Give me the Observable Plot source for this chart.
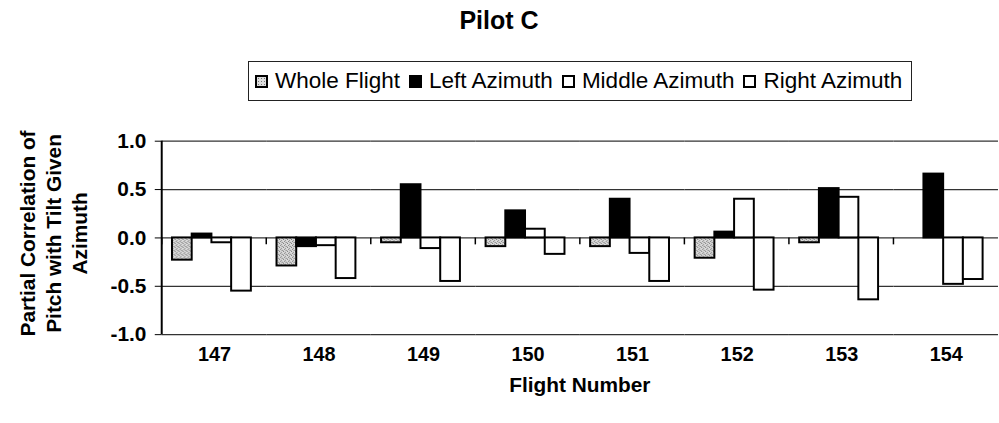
<!DOCTYPE html>
<html>
<head>
<meta charset="utf-8">
<script src="https://cdn.jsdelivr.net/npm/d3@7"></script>
<script src="https://cdn.jsdelivr.net/npm/@observablehq/plot@0.6"></script>
<style>
  html, body { margin: 0; padding: 0; background: #fff; overflow: hidden; }
  body { width: 999px; height: 423px; font-family: "Liberation Sans", Arial, sans-serif; color: #000; }
  #head { position: relative; height: 104px; width: 999px; }
  #title { position: absolute; left: 0; width: 998px; top: 5px; text-align: center; font-weight: bold; font-size: 25px; line-height: 30px; }
  #legend { position: absolute; left: 248px; top: 61px; width: 664px; height: 40px; box-sizing: border-box; border: 1.5px solid #222; display: flex; align-items: center; padding-left: 6px; font-size: 22.5px; white-space: nowrap; }
  .item { display: flex; align-items: center; margin-right: 9px; }
  .sw { width: 9px; height: 9px; border: 2px solid #000; margin-right: 7px; }
  svg { display: block; }
</style>
</head>
<body>
<div id="head">
  <div id="title">Pilot C</div>
  <div id="legend"></div>
</div>
<div id="chart"></div>
<script>
// ---- data ----
const flights = ["147", "148", "149", "150", "151", "152", "153", "154"];
const seriesNames = ["Whole Flight", "Left Azimuth", "Middle Azimuth", "Right Azimuth"];
const wholeFlight   = [-0.23, -0.29, -0.05, -0.09, -0.09, -0.21, -0.05, 0.00];
const leftAzimuth   = [0.04, -0.09, 0.55, 0.28, 0.40, 0.06, 0.51, 0.66];
const middleAzimuth = [-0.05, -0.08, -0.11, 0.09, -0.16, 0.40, 0.42, -0.48];
const rightAzimuth  = [-0.55, -0.42, -0.45, -0.17, -0.45, -0.54, -0.64, -0.43];
const yTicks = [-1, -0.5, 0, 0.5, 1];
const yTitleLines = ["Partial Correlation of", "Pitch with Tilt Given", "Azimuth"];
const xTitle = "Flight Number";
const seriesFills = ["url(#stipple)", "#000000", "#ffffff", "#ffffff"];

const seriesValues = [wholeFlight, leftAzimuth, middleAzimuth, rightAzimuth];
const rows = [];
flights.forEach((f, i) => {
  seriesNames.forEach((s, j) => rows.push({flight: f, series: s, value: seriesValues[j][i]}));
});

// ---- legend ----
const legend = document.getElementById("legend");
seriesNames.forEach((s, j) => {
  const it = document.createElement("div");
  it.className = "item";
  const sw = document.createElement("div");
  sw.className = "sw";
  sw.style.background = j === 0
    ? "radial-gradient(#777 35%, #ddd 40%) 0 0 / 3px 3px"
    : seriesFills[j];
  const tx = document.createElement("span");
  tx.textContent = s;
  it.appendChild(sw); it.appendChild(tx);
  legend.appendChild(it);
});

// ---- chart ----
const plot = Plot.plot({
  width: 1007,
  height: 319,
  marginTop: 37,
  marginBottom: 87,
  marginLeft: 163,
  marginRight: 1,
  style: {fontFamily: "'Liberation Sans', Arial, sans-serif", fontSize: "20px", fontWeight: "bold", color: "#000", background: "transparent"},
  fx: {domain: flights, padding: 0, round: false, label: null},
  x: {domain: seriesNames, paddingInner: 0, paddingOuter: 0.65, align: 0.4, round: false, axis: null},
  y: {domain: [-1, 1], label: null},
  color: {domain: seriesNames, range: seriesFills},
  marks: [
    Plot.ruleY(yTicks, {stroke: "#333", strokeWidth: 1.2}),
    Plot.barY(rows, {fx: "flight", x: "series", y: "value", fill: "series", stroke: "#000", strokeWidth: 2}),
    Plot.axisY({ticks: yTicks, tickFormat: d => d.toFixed(1), tickSize: 7, tickPadding: 9, label: null, fontSize: 21, fontWeight: "bold"}),
    Plot.axisFx({anchor: "bottom", tickSize: 0, tickPadding: 12, label: null, fontSize: 20, fontWeight: "bold"})
  ]
});
document.getElementById("chart").appendChild(plot);

// ---- extras drawn from the plot's own scales ----
const svg = d3.select(plot);
const fx = plot.scale("fx");
const y = plot.scale("y");
const bw = fx.bandwidth;
const x0 = fx.apply(flights[0]);
const xEnd = fx.apply(flights[flights.length - 1]) + bw;
const yTop = y.apply(1), yBot = y.apply(-1), yZero = y.apply(0);

const defs = svg.insert("defs", ":first-child");
const pat = defs.append("pattern").attr("id", "stipple").attr("patternUnits", "userSpaceOnUse")
  .attr("width", 4).attr("height", 4);
pat.append("rect").attr("width", 4).attr("height", 4).attr("fill", "#dcdcdc");
[[0, 0, "#6a6a6a"], [2, 1, "#8a8a8a"], [1, 2, "#7a7a7a"], [3, 3, "#888"], [2, 3, "#aaa"]].forEach(([px, py, c]) =>
  pat.append("rect").attr("x", px).attr("y", py).attr("width", 1).attr("height", 1).attr("fill", c));

const g = svg.append("g");
// value axis line
g.append("line").attr("x1", x0).attr("x2", x0).attr("y1", yTop).attr("y2", yBot)
  .attr("stroke", "#000").attr("stroke-width", 2);
// category boundary ticks on the zero line
flights.forEach(f => {
  const xb = fx.apply(f);
  g.append("line").attr("x1", xb).attr("x2", xb).attr("y1", yZero).attr("y2", yZero + 7)
    .attr("stroke", "#000").attr("stroke-width", 1.5);
});

// y title (three lines, rotated)
const yMid = (yTop + yBot) / 2;
const yt = svg.append("text")
  .attr("transform", `translate(28,${yMid - 4}) rotate(-90)`)
  .attr("text-anchor", "middle")
  .attr("font-size", 21).attr("font-weight", "bold").attr("fill", "#000");
yTitleLines.forEach((t, i) => {
  yt.append("tspan").attr("x", 0).attr("dy", i === 0 ? "0.35em" : "1.25em").text(t);
});

// x title
svg.append("text")
  .attr("x", (x0 + xEnd) / 2)
  .attr("y", yBot + 58)
  .attr("text-anchor", "middle")
  .attr("font-size", 21).attr("font-weight", "bold").attr("fill", "#000")
  .text(xTitle);
</script>
</body>
</html>
